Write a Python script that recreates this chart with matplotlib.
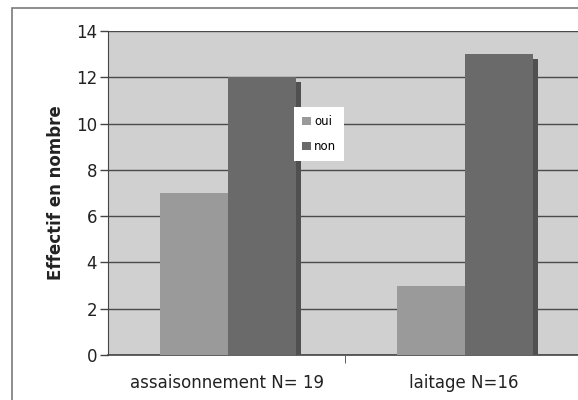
import matplotlib
matplotlib.use("Agg")
import matplotlib.pyplot as plt
import matplotlib.patheffects as pe
import numpy as np

categories = ["assaisonnement N= 19", "laitage N=16"]
series_names = ["oui", "non"]
oui = [7, 3]
non = [12, 13]
yticks = [0, 2, 4, 6, 8, 10, 12, 14]

fig = plt.figure(figsize=(5.78, 4.0), dpi=100)
fig.patch.set_facecolor("white")
# outer chart border
fig.patches.append(plt.Rectangle((12/578, -0.05), 1.1, 1 - 8/400 + 0.05,
                                 transform=fig.transFigure, fill=False,
                                 edgecolor="#7a7a7a", linewidth=1.2))

ax = fig.add_axes([108/578, 45/400, 474/578, 324/400])
ax.set_facecolor("#d0d0d0")
x = np.arange(len(categories))
w = 0.287
shadow = [pe.SimplePatchShadow(offset=(3.5, -3.5), shadow_rgbFace="#505050", alpha=1.0), pe.Normal()]
ax.bar(x - w/2 + 0.005, oui, w, color="#9a9a9a", label=series_names[0], zorder=3)
ax.bar(x + w/2 + 0.005, non, w, color="#6a6a6a", label=series_names[1], zorder=3,
       path_effects=shadow)

ax.set_xlim(-0.5, 1.5)
ax.set_ylim(0, 14)
ax.set_yticks(yticks)
ax.set_yticklabels([str(t) for t in yticks], fontsize=12, color="#222222")
ax.yaxis.grid(True, color="#4a4a4a", linewidth=1.0, zorder=1)
ax.set_axisbelow(True)
ax.set_xticks(x)
ax.set_xticklabels(categories, fontsize=12, color="#222222")
ax.tick_params(axis="x", length=0, pad=14)
ax.set_xticks([0.5], minor=True)
ax.tick_params(axis="x", which="minor", length=6, color="#444444", direction="out")
ax.tick_params(axis="y", length=6, color="#444444", width=1.0, pad=2)
for side in ["top", "right"]:
    ax.spines[side].set_visible(False)
ax.spines["left"].set_color("#444444")
ax.spines["bottom"].set_color("#444444")
ax.spines["bottom"].set_linewidth(1.2)
ax.set_ylabel("Effectif en nombre", fontsize=12, fontweight="bold", color="#222222", labelpad=8)

leg = ax.legend(loc="upper left", bbox_to_anchor=((294-108)/474, (355-107)/324),
                fontsize=8.5, frameon=True, fancybox=False, framealpha=1.0,
                edgecolor="white", handlelength=0.7, handleheight=0.7,
                handletextpad=0.3, borderpad=0.7, labelspacing=1.0, borderaxespad=0)
leg.get_frame().set_linewidth(0)
for h in leg.legend_handles:
    h.set_path_effects([])

fig.savefig("out.png", dpi=100)
